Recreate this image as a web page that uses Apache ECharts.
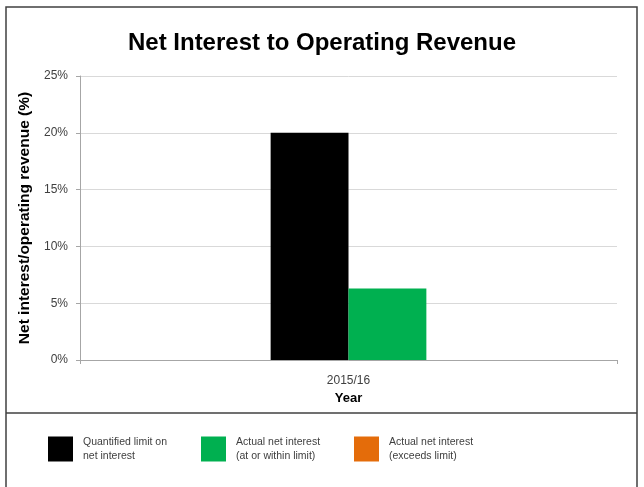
<!DOCTYPE html>
<html>
<head>
<meta charset="utf-8">
<script src="https://cdn.jsdelivr.net/npm/echarts@6/dist/echarts.min.js"></script>
<style>
  html, body { margin: 0; padding: 0; background: #fff; }
  #chart { width: 644px; height: 487px; }
</style>
</head>
<body>
<div id="chart"></div>
<script>
// Chart data
const years = ['2015/16'];
const quantifiedLimit = [20];      // % of operating revenue
const actualWithinLimit = [6.3];   // % of operating revenue
const actualExceedsLimit = [null]; // no year exceeds the limit
const yTicks = { min: 0, max: 25, step: 5 };

const seriesNames = [
  'Quantified limit on\nnet interest',
  'Actual net interest\n(at or within limit)',
  'Actual net interest\n(exceeds limit)'
];
const colors = ['#000000', '#00b050', '#e46c0a'];

const FONT = 'Liberation Sans, Arial, sans-serif';
const chart = echarts.init(document.getElementById('chart'), null, { renderer: 'canvas' });

const legendText = { fontFamily: FONT, fontSize: 10.5, color: '#404040', lineHeight: 14, padding: [0, 0, 0, 5] };
const legendCommon = {
  orient: 'horizontal', top: 435, padding: 0, itemWidth: 25, itemHeight: 25, itemGap: 10,
  icon: 'rect', textStyle: legendText, selectedMode: false
};

chart.setOption({
  backgroundColor: '#ffffff',
  animation: false,
  title: {
    text: 'Net Interest to Operating Revenue',
    left: 'center', top: 26,
    textStyle: { fontFamily: FONT, fontWeight: 'bold', fontSize: 24, color: '#000' }
  },
  legend: [
    Object.assign({ left: 48, data: [seriesNames[0]] }, legendCommon),
    Object.assign({ left: 201, data: [seriesNames[1]] }, legendCommon),
    Object.assign({ left: 354, data: [seriesNames[2]] }, legendCommon)
  ],
  grid: { left: 80, right: 27, top: 76, bottom: 127, containLabel: false },
  xAxis: {
    type: 'category',
    data: years,
    name: 'Year',
    nameLocation: 'middle',
    nameGap: 32,
    nameTextStyle: { fontFamily: FONT, fontWeight: 'bold', fontSize: 13, color: '#000' },
    axisLine: { lineStyle: { color: '#a6a6a6', width: 1 } },
    axisTick: { show: true, alignWithLabel: false, length: 4, lineStyle: { color: '#a6a6a6' } },
    axisLabel: { fontFamily: FONT, fontSize: 12, color: '#404040', margin: 15 }
  },
  yAxis: {
    type: 'value',
    min: yTicks.min, max: yTicks.max, interval: yTicks.step,
    name: 'Net interest/operating revenue (%)',
    nameLocation: 'middle',
    nameGap: 42,
    nameTextStyle: { fontFamily: FONT, fontWeight: 'bold', fontSize: 15.5, color: '#000' },
    axisLine: { show: true, lineStyle: { color: '#a6a6a6', width: 1 } },
    axisTick: { show: true, length: 4, lineStyle: { color: '#a6a6a6' } },
    axisLabel: { fontFamily: FONT, fontSize: 12, color: '#404040', margin: 12, formatter: v => v + '%' },
    splitLine: { lineStyle: { color: '#d9d9d9', width: 1 } }
  },
  series: [
    { name: seriesNames[0], type: 'bar', data: quantifiedLimit, itemStyle: { color: colors[0] },
      barGap: '0%', barCategoryGap: '71%' },
    { name: seriesNames[1], type: 'bar', stack: 'actual', data: actualWithinLimit, itemStyle: { color: colors[1] } },
    { name: seriesNames[2], type: 'bar', stack: 'actual', data: actualExceedsLimit, itemStyle: { color: colors[2] } }
  ],
  graphic: [
    { type: 'rect', shape: { x: 6, y: 7, width: 631, height: 490 },
      style: { fill: null, stroke: '#404040', lineWidth: 1.5 }, silent: true },
    { type: 'line', shape: { x1: 6, y1: 413, x2: 637, y2: 413 },
      style: { stroke: '#404040', lineWidth: 1.5 }, silent: true }
  ]
});
</script>
</body>
</html>
